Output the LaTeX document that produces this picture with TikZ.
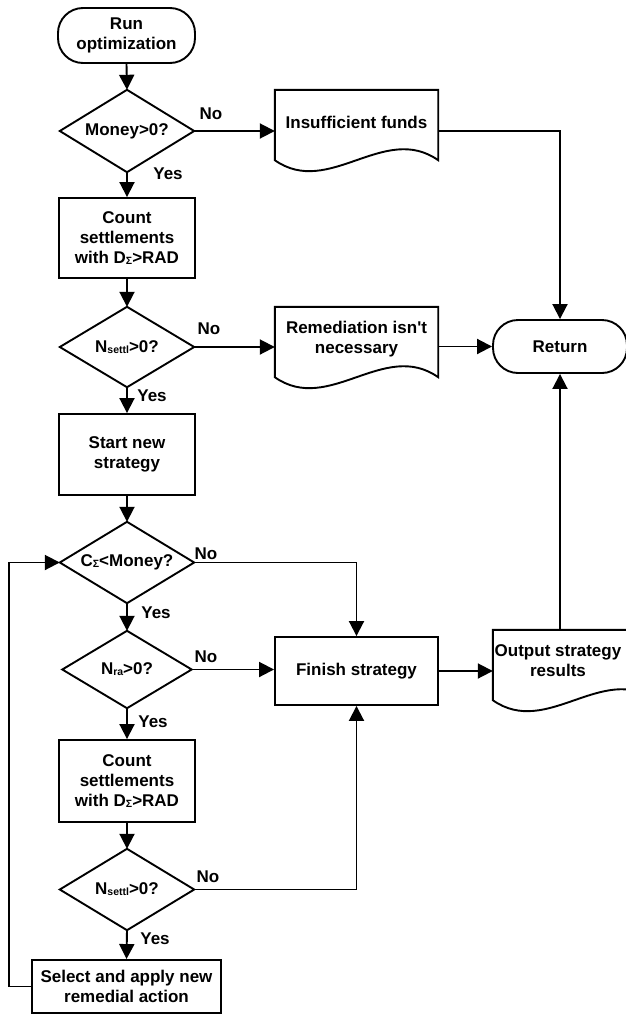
\documentclass[tikz,border=0pt]{standalone}
\usepackage{fontspec}
\setmainfont{Liberation Sans}[Ligatures=TeXOff]
\usetikzlibrary{arrows.meta,calc}
\newcommand\lowsub[1]{\raisebox{-1pt}{\fontsize{10.5}{10.5}\selectfont #1}}
\begin{document}
\begin{tikzpicture}[x=1pt,y=-1pt,
  every node/.style={font=\fontsize{17}{20}\selectfont\bfseries, align=center, inner sep=0pt},
  ln/.style={line width=1.9pt},
  arr/.style={ln, -{Triangle[length=15pt,width=15pt]}},
  proc/.style={draw, ln, rectangle, minimum width=136pt},
  term/.style={draw, ln, rectangle, rounded corners=25pt},
  decision/.style={rectangle, minimum width=134pt, minimum height=81pt},
  docbox/.style={rectangle, minimum width=163pt, minimum height=64pt}
]
\useasboundingbox (0,0) rectangle (625,1015);

% left column
\node[term, minimum width=137pt, minimum height=55pt] (run) at (126.5,35.5) {Run\\optimization};
\node[decision, minimum height=82pt] (d1) at (127,131) {Money>0?};
\node[proc, minimum height=80pt] (b1) at (127,238) {Count\\settlements\\with D\lowsub{Σ}>RAD};
\node[decision, minimum height=80pt] (d2) at (127,347) {N\lowsub{settl}>0?};
\node[proc, minimum height=81pt] (b2) at (127,454.5) {Start new\\strategy};
\node[decision] (d3) at (127,562.5) {C\lowsub{Σ}<Money?};
\node[decision, minimum width=129pt, minimum height=77pt] (d4) at (127,669.5) {N\lowsub{ra}>0?};
\node[proc, minimum height=82pt] (b3) at (127,781) {Count\\settlements\\with D\lowsub{Σ}>RAD};
\node[decision] (d5) at (127,889.5) {N\lowsub{settl}>0?};
\node[proc, minimum width=189pt, minimum height=53pt] (b4) at (126.5,986.5) {Select and apply new\\remedial action};

% right part
\node[docbox] (insuf) at (356.5,122) {Insufficient funds};
\node[docbox] (remed) at (356.5,339) {Remediation isn't\\necessary};
\node[proc, minimum width=163pt, minimum height=68pt] (fin) at (356.5,671) {Finish strategy};
\node[docbox] (out) at (574.5,662) {};
\node (outtxt) at (558,661) {Output strategy\\results};
\node[term, minimum width=134pt, minimum height=53pt] (ret) at (560,346.5) {Return};

% diamond outlines
\foreach \n in {d1,d2,d3,d4,d5}
  \draw[ln, line join=miter] (\n.north) -- (\n.east) -- (\n.south) -- (\n.west) -- cycle;

% document outlines
\foreach \n in {insuf,remed,out}
  \draw[ln] (\n.south west) -- (\n.north west) -- (\n.north east) -- ($(\n.south east)+(0,6)$)
    .. controls +(-54,-38) and +(54,38) .. ($(\n.south west)+(0,6)$) -- cycle;

% connectors
\draw[arr] (run.south) -- (d1.north);
\draw[arr] (d1.south) -- (b1.north);
\draw[arr] (b1.south) -- (d2.north);
\draw[arr] (d2.south) -- (b2.north);
\draw[arr] (b2.south) -- (d3.north);
\draw[arr] (d3.south) -- (d4.north);
\draw[arr] (d4.south) -- (b3.north);
\draw[arr] (b3.south) -- (d5.north);
\draw[arr] (d5.south) -- (b4.north);

\draw[arr] (d1.east) -- (d1.east -| insuf.west);
\draw[arr] (d1.east -| insuf.east) -| (ret.north);
\draw[arr] (d2.east) -- (d2.east -| remed.west);
\draw[arr] (remed.east |- ret.west) -- (ret.west);
\draw[arr] (d3.east) -| (fin.north);
\draw[arr] (d4.east) -- (d4.east -| fin.west);
\draw[arr] (d5.east) -| (fin.south);
\draw[arr] (fin.east) -- (fin.east -| out.west);
\draw[arr] (out.north -| ret.south) -- (ret.south);
\draw[arr] (b4.west) -- ++(-22,0) |- (d3.west);

% branch labels
\node (no1) at (211,114) {No};
\node (yes1) at (168,174) {Yes};
\node (no2) at (209,329) {No};
\node (yes2) at (152,396) {Yes};
\node (no3) at (206,554) {No};
\node (yes3) at (156,613) {Yes};
\node (no4) at (206,657) {No};
\node (yes4) at (153,722) {Yes};
\node (no5) at (208,877) {No};
\node (yes5) at (155,939) {Yes};
\end{tikzpicture}
\end{document}
